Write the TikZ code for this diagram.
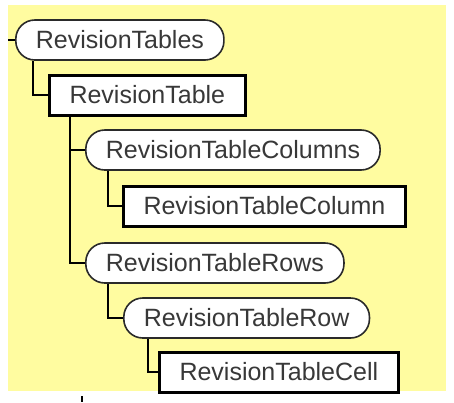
\documentclass[tikz,border=0pt]{standalone}
\usepackage{fontspec}
\setmainfont{Liberation Sans}
\usepackage{tikz}
\usetikzlibrary{positioning}
\definecolor{schemayellow}{HTML}{FFFCA0}
\definecolor{schemaink}{HTML}{383838}
\definecolor{schemaedge}{HTML}{2A2A2A}
\tikzset{
  % element-noder
  grp/.style={draw=schemaedge,fill=white,line width=1.6pt,rounded corners=19pt,
              minimum height=40pt,inner xsep=20pt,inner ysep=0pt,anchor=west,
              text=schemaink,font=\fontsize{25}{28}\selectfont},
  elm/.style={draw=black,fill=white,line width=3pt,
              minimum height=40pt,inner xsep=20pt,inner ysep=0pt,anchor=west,
              text=schemaink,font=\fontsize{25}{28}\selectfont},
  link/.style={draw=black,line width=1.4pt},
}
\begin{document}
\begin{tikzpicture}[x=1pt,y=-1pt]
  \useasboundingbox (0,0) rectangle (454,402);
  \fill[schemayellow] (8,5) rectangle (446,391);
  \coordinate (root) at (8,40);
  \coordinate (tickt) at (82,396);
  \coordinate (tickb) at (82,402);
  \node[grp] (tables) at (15,40) {RevisionTables};
  \node[elm] (table) at (48,95) {RevisionTable};
  \node[grp] (cols) at (85,150) {RevisionTableColumns};
  \node[elm] (col) at (122,206) {RevisionTableColumn};
  \node[grp] (rows) at (85,263) {RevisionTableRows};
  \node[grp] (row) at (123,318) {RevisionTableRow};
  \node[elm] (cell) at (158,372) {RevisionTableCell};
  \draw[link] (root) -- (tables.west);
  \draw[link] ([xshift=18pt]tables.south west) |- (table.west);
  \draw[link] ([xshift=22pt]table.south west) |- (cols.west);
  \draw[link] ([xshift=22pt]table.south west) |- (rows.west);
  \draw[link] ([xshift=23pt]cols.south west) |- (col.west);
  \draw[link] ([xshift=23pt]rows.south west) |- (row.west);
  \draw[link] ([xshift=25pt]row.south west) |- (cell.west);
  \draw[link] (tickt) -- (tickb);
\end{tikzpicture}
\end{document}
